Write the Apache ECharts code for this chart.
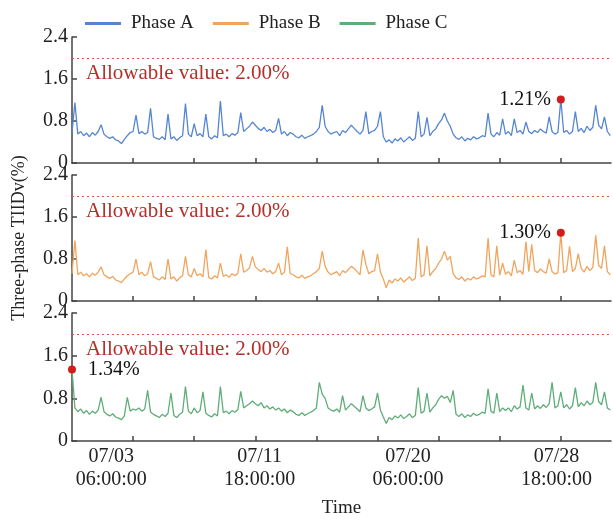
<!DOCTYPE html>
<html>
<head>
<meta charset="utf-8">
<script src="https://cdn.jsdelivr.net/npm/echarts@6/dist/echarts.min.js"></script>
<style>
  html, body { margin: 0; padding: 0; background: #fff; }
  #chart { width: 613px; height: 523px; }
</style>
</head>
<body>
<div id="chart"></div>
<script>
// sampling: every 4 h from 06/30 18:00; x axis is hours since that start
const stepHours = 4
const spanHours = 741

const seriesNames = ['Phase A', 'Phase B', 'Phase C']
const allowable = 2.0

const phaseA = [
  0.58,1.15,0.55,0.60,0.52,0.57,0.50,0.58,0.53,0.60,
  0.73,0.55,0.50,0.47,0.50,0.44,0.42,0.37,0.45,0.52,
  0.58,0.60,0.91,0.56,0.60,0.55,0.58,1.04,0.50,0.47,
  0.45,0.50,0.44,0.93,0.46,0.50,0.43,0.48,0.52,1.13,
  0.55,0.50,0.75,0.52,0.56,0.50,0.93,0.50,0.46,0.52,
  0.48,1.18,0.52,0.55,0.50,0.56,0.53,0.58,0.96,0.60,
  0.65,0.70,0.78,0.72,0.66,0.62,0.68,0.60,0.64,0.58,
  0.62,0.85,0.55,0.60,0.52,0.58,0.55,0.50,0.48,0.53,
  0.47,0.50,0.52,0.55,0.60,0.68,1.10,0.70,0.60,0.55,
  0.58,0.60,0.52,0.62,0.58,0.65,0.72,0.66,0.60,0.55,
  0.62,0.98,0.56,0.60,0.62,0.70,0.98,0.50,0.40,0.44,
  0.38,0.46,0.42,0.48,0.40,0.45,0.50,0.43,0.47,0.98,
  0.50,0.55,0.87,0.52,0.60,0.65,0.75,0.82,0.95,0.80,
  0.70,0.55,0.48,0.45,0.50,0.42,0.47,0.44,0.50,0.46,
  0.48,0.52,0.50,0.95,0.55,0.50,0.58,0.53,0.84,0.55,
  0.60,0.52,0.84,0.58,0.62,0.55,0.78,0.60,0.56,0.62,
  0.58,0.65,0.60,0.57,0.88,0.60,0.55,0.58,1.21,0.58,
  0.62,0.55,0.60,0.98,0.60,0.66,0.58,0.70,0.62,0.68,
  1.10,0.72,0.65,0.88,0.60,0.52
]
const phaseB = [
  0.52,1.15,0.50,0.55,0.48,0.52,0.46,0.53,0.49,0.55,
  0.65,0.50,0.46,0.43,0.47,0.40,0.38,0.35,0.42,0.48,
  0.52,0.55,0.80,0.50,0.55,0.48,0.52,0.75,0.46,0.43,
  0.40,0.46,0.41,0.80,0.42,0.46,0.38,0.44,0.48,0.85,
  0.50,0.46,0.62,0.48,0.52,0.46,0.98,0.45,0.42,0.48,
  0.44,0.72,0.47,0.50,0.45,0.52,0.48,0.53,0.90,0.55,
  0.58,0.63,0.85,0.65,0.60,0.56,0.62,0.55,0.58,0.52,
  0.56,0.72,0.50,0.55,1.03,0.52,0.50,0.46,0.44,0.49,
  0.43,0.46,0.48,0.52,0.56,0.62,0.95,0.66,0.55,0.50,
  0.53,0.56,0.48,0.58,0.54,0.60,0.66,0.62,0.56,0.50,
  0.97,0.70,0.52,0.56,0.58,0.90,0.55,0.42,0.25,0.40,
  0.34,0.42,0.38,0.44,0.36,0.41,0.46,0.39,0.43,1.20,
  0.46,0.50,1.05,0.48,0.56,0.62,0.72,0.80,0.95,0.78,
  0.85,0.52,0.44,0.41,0.46,0.38,0.43,0.40,0.46,0.42,
  0.44,0.48,0.46,1.20,0.50,0.46,1.05,0.49,0.72,0.51,
  0.56,0.48,0.78,0.54,0.58,0.51,1.13,0.56,1.08,0.58,
  0.54,0.61,0.56,0.53,0.80,0.56,0.51,0.54,1.30,0.54,
  0.58,1.04,0.56,0.62,0.90,0.62,0.55,0.66,0.58,0.64,
  1.25,0.68,0.62,1.05,0.56,0.50
]
const phaseC = [
  1.34,0.62,0.55,0.60,0.52,0.57,0.50,0.56,0.52,0.58,
  0.82,0.55,0.50,0.47,0.51,0.45,0.43,0.40,0.47,0.82,
  0.56,0.60,0.58,0.62,0.56,0.60,0.95,0.54,0.50,0.47,
  0.44,0.50,0.46,0.52,0.90,0.48,0.44,0.50,0.54,1.02,
  0.56,0.51,0.62,0.53,0.57,0.92,0.52,0.48,0.45,0.51,
  0.47,1.02,0.53,0.56,0.51,0.57,0.54,0.59,0.93,0.62,
  0.66,0.70,0.75,0.70,0.66,0.72,0.62,0.66,0.60,0.64,
  0.58,0.62,0.56,0.60,0.53,0.58,0.55,0.50,0.48,0.53,
  0.48,0.51,0.54,0.57,0.62,1.10,0.88,0.80,0.62,0.58,
  0.56,0.60,0.54,0.85,0.58,0.64,0.70,0.65,0.60,0.55,
  0.85,0.62,0.57,0.60,0.64,0.90,0.58,0.45,0.33,0.44,
  0.40,0.47,0.43,0.49,0.42,0.46,0.51,0.44,0.48,1.00,
  0.52,0.56,0.90,0.54,0.62,0.68,0.78,0.85,0.80,0.84,
  0.72,0.95,0.50,0.46,0.51,0.44,0.49,0.46,0.52,0.48,
  0.50,0.54,0.52,0.98,0.56,0.52,0.90,0.55,0.62,0.57,
  0.62,0.55,0.66,0.60,0.64,1.05,0.62,0.58,0.90,0.60,
  0.66,0.61,0.68,0.63,0.70,1.10,0.62,0.66,0.92,0.62,
  0.68,0.60,0.66,1.00,0.64,0.72,0.66,0.75,0.68,0.72,
  1.10,0.74,0.68,0.92,0.62,0.58
]

// x ticks every 84 h (3.5 days), labels every 204 h (8.5 days)
const tickHours  = [84, 168, 252, 336, 420, 504, 588, 672]
const labelHours = [54, 258, 462, 666]
const tickLabels = ['07/03\n06:00:00', '07/11\n18:00:00', '07/20\n06:00:00', '07/28\n18:00:00']

const colors = ['#5585d2', '#f0a55e', '#5fad78']
const FONT = '"Liberation Serif", "Times New Roman", serif'
const AXIS = '#444'

const grids = [
  { left: 72, right: 2, top: 37,  height: 126 },
  { left: 72, right: 2, top: 175, height: 126 },
  { left: 72, right: 2, top: 313, height: 128 },
]

function xAxisOpt(i) {
  const last = i === 2
  return {
    type: 'value', gridIndex: i, min: 0, max: spanHours,
    axisLine: { show: true, onZero: false, lineStyle: { color: AXIS, width: 1.5 } },
    axisTick: { show: true, inside: true, length: 5, customValues: tickHours, lineStyle: { color: AXIS, width: 1.5 } },
    axisLabel: { show: last, customValues: labelHours, margin: 4,
      formatter: v => tickLabels[labelHours.indexOf(v)] || '',
      color: '#222', fontFamily: FONT, fontSize: 20, lineHeight: 23 },
    splitLine: { show: false },
    name: last ? 'Time' : '', nameLocation: 'middle', nameGap: 58,
    nameTextStyle: { color: '#222', fontFamily: FONT, fontSize: 19 },
  }
}

function yAxisOpt(i) {
  return {
    type: 'value', gridIndex: i, min: 0, max: 2.4, interval: 0.8,
    axisLine: { show: true, lineStyle: { color: AXIS, width: 1.5 } },
    axisTick: { show: true, inside: true, length: 5, lineStyle: { color: AXIS, width: 1.5 } },
    axisLabel: { color: '#222', fontFamily: FONT, fontSize: 20, margin: 4 },
    splitLine: { show: false },
    name: i === 1 ? 'Three-phase TIIDv(%)' : '', nameLocation: 'middle', nameGap: 44,
    nameTextStyle: { color: '#222', fontFamily: FONT, fontSize: 18 },
  }
}

function seriesOpt(i, name, vals) {
  return {
    name, type: 'line', xAxisIndex: i, yAxisIndex: i,
    data: vals.map((v, k) => [k * stepHours, v]),
    showSymbol: false, symbol: 'none', clip: false,
    lineStyle: { color: colors[i], width: 1.3 },
    itemStyle: { color: colors[i] },
    emphasis: { disabled: true },
    markLine: {
      silent: true, symbol: 'none',
      data: [{ yAxis: allowable }],
      lineStyle: { color: '#e0533d', type: [2, 3], width: 1 },
      label: { show: true, position: 'insideStartBottom', distance: [14, 5],
        formatter: `Allowable value: ${allowable.toFixed(2)}%`,
        color: '#b5302a', fontFamily: FONT, fontSize: 21 },
    },
    markPoint: {
      silent: true, symbol: 'circle', symbolSize: 8,
      itemStyle: { color: '#d41c1c' },
      data: [{ type: 'max' }],
      label: { show: true, position: i === 2 ? 'right' : 'left', distance: i === 2 ? 12 : 6,
        formatter: p => p.value.toFixed(2) + '%',
        color: '#111', fontFamily: FONT, fontSize: 20 },
    },
  }
}

const chart = echarts.init(document.getElementById('chart'), null, { renderer: 'canvas' })
chart.setOption({
  animation: false,
  backgroundColor: '#fff',
  legend: {
    top: 9, left: 80, itemWidth: 36, itemHeight: 3, itemGap: 19, icon: 'rect',
    data: seriesNames,
    textStyle: { color: '#222', fontFamily: FONT, fontSize: 19, padding: [0, 0, 0, 5] },
  },
  grid: grids,
  xAxis: [0, 1, 2].map(xAxisOpt),
  yAxis: [0, 1, 2].map(yAxisOpt),
  series: [
    seriesOpt(0, seriesNames[0], phaseA),
    seriesOpt(1, seriesNames[1], phaseB),
    seriesOpt(2, seriesNames[2], phaseC),
  ],
})
</script>
</body>
</html>
